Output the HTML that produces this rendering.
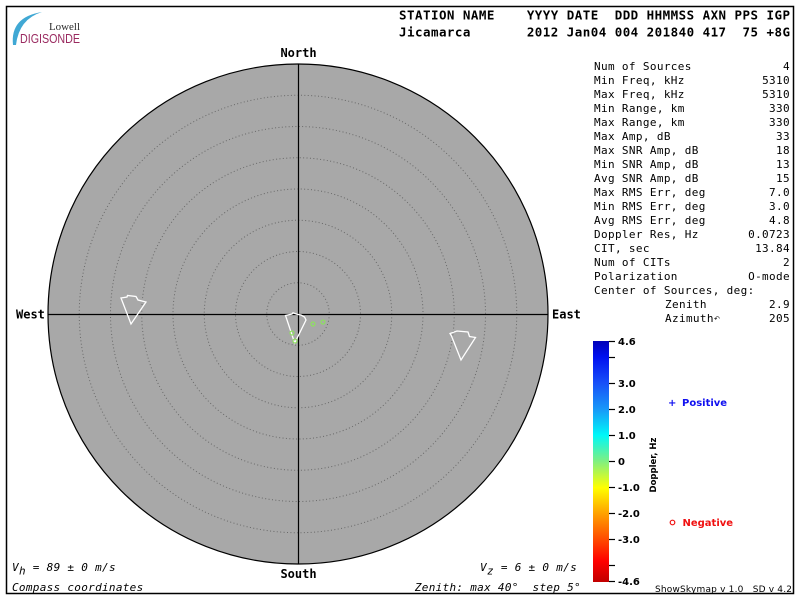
<!DOCTYPE html>
<html><head><meta charset="utf-8"><style>
html,body{margin:0;padding:0;background:#fff;}
svg{display:block;}
.mono{font-family:"DejaVu Sans Mono","Liberation Mono",monospace;}
.sans{font-family:"DejaVu Sans","Liberation Sans",sans-serif;}
</style></head><body>
<svg width="800" height="600" viewBox="0 0 800 600" xmlns="http://www.w3.org/2000/svg">
<defs>
<linearGradient id="cb" x1="0" y1="0" x2="0" y2="1">
<stop offset="0" stop-color="#0000b8"/>
<stop offset="0.065" stop-color="#0010f0"/>
<stop offset="0.174" stop-color="#1850f8"/>
<stop offset="0.283" stop-color="#1898f8"/>
<stop offset="0.391" stop-color="#00f8f8"/>
<stop offset="0.5" stop-color="#80f080"/>
<stop offset="0.609" stop-color="#ffff00"/>
<stop offset="0.717" stop-color="#ffa000"/>
<stop offset="0.826" stop-color="#ff4800"/>
<stop offset="0.913" stop-color="#ff0000"/>
<stop offset="1" stop-color="#c00000"/>
</linearGradient>
</defs>
<rect x="0" y="0" width="800" height="600" fill="#fff"/>
<rect x="6.5" y="6.5" width="787" height="587" fill="none" stroke="#000" stroke-width="1.5"/>

<!-- logo -->
<path d="M13,45 Q10,17 42,12 Q19,19 16,45 Z" fill="#40a8d4"/>
<text x="49" y="30" font-family="Liberation Serif,serif" font-size="11" fill="#2a2a2a" textLength="31" lengthAdjust="spacingAndGlyphs">Lowell</text>
<text x="20" y="43" font-family="Liberation Sans,sans-serif" font-size="12.5" fill="#9a2a60" textLength="60" lengthAdjust="spacingAndGlyphs">DIGISONDE</text>

<!-- header -->
<g class="mono" font-weight="bold" font-size="12.5" fill="#000">
<text x="399" y="19.5" xml:space="preserve" textLength="391" lengthAdjust="spacing">STATION NAME    YYYY DATE  DDD HHMMSS AXN PPS IGP</text>
<text x="399" y="36.5" xml:space="preserve" textLength="391" lengthAdjust="spacing">Jicamarca       2012 Jan04 004 201840 417  75 +8G</text>
</g>

<!-- skymap -->
<circle cx="298" cy="314" r="250" fill="#a8a8a8" stroke="#000" stroke-width="1.2"/>
<g fill="none" stroke="#686868" stroke-width="1" stroke-dasharray="1 2.4">
<circle cx="298" cy="314" r="31.25"/>
<circle cx="298" cy="314" r="62.5"/>
<circle cx="298" cy="314" r="93.75"/>
<circle cx="298" cy="314" r="125"/>
<circle cx="298" cy="314" r="156.25"/>
<circle cx="298" cy="314" r="187.5"/>
<circle cx="298" cy="314" r="218.75"/>
</g>
<line x1="48" y1="314.5" x2="548" y2="314.5" stroke="#000" stroke-width="1.2"/>
<line x1="298.5" y1="64" x2="298.5" y2="564" stroke="#000" stroke-width="1.2"/>

<!-- markers -->
<g fill="none" stroke="#fff" stroke-width="1.3" stroke-linejoin="miter">
<polygon points="121,298 127,297 127.5,295.5 136,296.5 138,300 146,302 131,324"/>
<polygon points="450,333.5 457,331 468,332 469.5,336.5 475.5,337.5 461,360 451.5,336"/>
<polygon points="285.5,315.5 292,314 293,312.8 297,314.2 301,315 304.5,317 306,320 294.7,343"/>
</g>
<g fill="none" stroke="#8ee060" stroke-width="1.2">
<circle cx="313" cy="324" r="2"/>
<circle cx="323" cy="322" r="2"/>
<circle cx="292" cy="333" r="2"/>
<circle cx="295" cy="341" r="2"/>
</g>

<!-- compass labels -->
<g class="mono" font-weight="bold" font-size="12" fill="#000">
<text x="298.5" y="57" text-anchor="middle">North</text>
<text x="298.5" y="578" text-anchor="middle">South</text>
<text x="16" y="318.5">West</text>
<text x="552" y="318.5">East</text>
</g>

<!-- stats -->
<g class="mono" font-size="11" fill="#000" letter-spacing="0.36">
<text x="594" y="70">Num of Sources</text><text x="790" y="70" text-anchor="end">4</text>
<text x="594" y="84">Min Freq, kHz</text><text x="790" y="84" text-anchor="end">5310</text>
<text x="594" y="98">Max Freq, kHz</text><text x="790" y="98" text-anchor="end">5310</text>
<text x="594" y="112">Min Range, km</text><text x="790" y="112" text-anchor="end">330</text>
<text x="594" y="126">Max Range, km</text><text x="790" y="126" text-anchor="end">330</text>
<text x="594" y="140">Max Amp, dB</text><text x="790" y="140" text-anchor="end">33</text>
<text x="594" y="154">Max SNR Amp, dB</text><text x="790" y="154" text-anchor="end">18</text>
<text x="594" y="168">Min SNR Amp, dB</text><text x="790" y="168" text-anchor="end">13</text>
<text x="594" y="182">Avg SNR Amp, dB</text><text x="790" y="182" text-anchor="end">15</text>
<text x="594" y="196">Max RMS Err, deg</text><text x="790" y="196" text-anchor="end">7.0</text>
<text x="594" y="210">Min RMS Err, deg</text><text x="790" y="210" text-anchor="end">3.0</text>
<text x="594" y="224">Avg RMS Err, deg</text><text x="790" y="224" text-anchor="end">4.8</text>
<text x="594" y="238">Doppler Res, Hz</text><text x="790" y="238" text-anchor="end">0.0723</text>
<text x="594" y="252">CIT, sec</text><text x="790" y="252" text-anchor="end">13.84</text>
<text x="594" y="266">Num of CITs</text><text x="790" y="266" text-anchor="end">2</text>
<text x="594" y="280">Polarization</text><text x="790" y="280" text-anchor="end">O-mode</text>
<text x="594" y="294">Center of Sources, deg:</text>
<text x="665" y="308">Zenith</text><text x="790" y="308" text-anchor="end">2.9</text>
<text x="665" y="322">Azimuth</text><text x="790" y="322" text-anchor="end">205</text>
</g>
<text x="714" y="321" font-family="DejaVu Sans,sans-serif" font-size="7" fill="#000">↶</text>

<!-- colorbar -->
<rect x="593" y="341" width="16" height="241" fill="url(#cb)"/>
<g stroke="#000" stroke-width="1.2">
<line x1="609" y1="341.5" x2="615" y2="341.5"/>
<line x1="609" y1="357.5" x2="615" y2="357.5"/>
<line x1="609" y1="383.5" x2="615" y2="383.5"/>
<line x1="609" y1="409.5" x2="615" y2="409.5"/>
<line x1="609" y1="435.5" x2="615" y2="435.5"/>
<line x1="609" y1="461.5" x2="615" y2="461.5"/>
<line x1="609" y1="487.5" x2="615" y2="487.5"/>
<line x1="609" y1="513.5" x2="615" y2="513.5"/>
<line x1="609" y1="539.5" x2="615" y2="539.5"/>
<line x1="609" y1="565.5" x2="615" y2="565.5"/>
<line x1="609" y1="581.5" x2="615" y2="581.5"/>
</g>
<g class="sans" font-weight="bold" font-size="10" fill="#000">
<text x="618" y="345">4.6</text>
<text x="618" y="387">3.0</text>
<text x="618" y="413">2.0</text>
<text x="618" y="439">1.0</text>
<text x="618" y="465">0</text>
<text x="618" y="491">-1.0</text>
<text x="618" y="517">-2.0</text>
<text x="618" y="543">-3.0</text>
<text x="618" y="585">-4.6</text>
</g>
<text class="sans" font-weight="bold" font-size="8.5" fill="#000" transform="translate(656,465) rotate(-90)" text-anchor="middle">Doppler, Hz</text>

<!-- legend -->
<g class="sans" font-weight="bold" font-size="10">
<text x="668" y="406" fill="#1010f0">+</text>
<text x="682" y="406" fill="#1010f0">Positive</text>
<circle cx="672.5" cy="522.5" r="2.3" fill="none" stroke="#f01010" stroke-width="1.2"/>
<text x="682.5" y="526" fill="#f01010">Negative</text>
</g>
<text class="sans" x="655" y="592" font-size="9" fill="#000" xml:space="preserve" textLength="137" lengthAdjust="spacing">ShowSkymap v 1.0   SD v 4.2</text>

<!-- bottom texts -->
<g class="mono" font-style="italic" font-size="11" fill="#000" letter-spacing="0.3">
<text x="12" y="571" xml:space="preserve">V<tspan dy="3.5">h</tspan><tspan dy="-3.5"> = 89 ± 0 m/s</tspan></text>
<text x="12" y="591">Compass coordinates</text>
<text x="577" y="571" text-anchor="end" xml:space="preserve">V<tspan dy="3.5">z</tspan><tspan dy="-3.5"> = 6 ± 0 m/s</tspan></text>
<text x="581" y="591" text-anchor="end" xml:space="preserve">Zenith: max 40°  step 5°</text>
</g>
</svg>
</body></html>
